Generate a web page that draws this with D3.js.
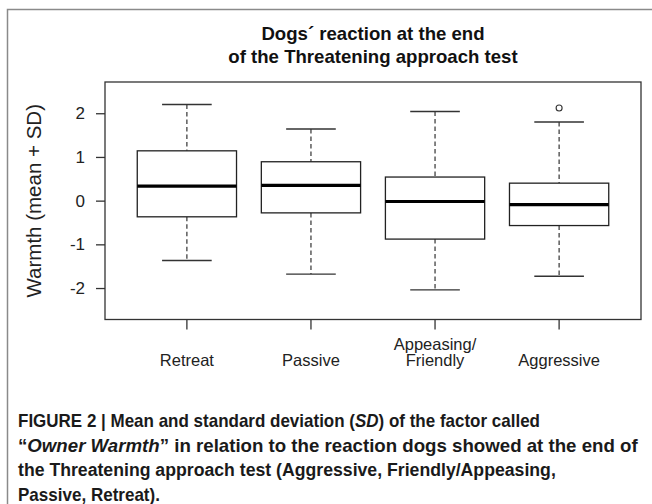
<!DOCTYPE html>
<html>
<head>
<meta charset="utf-8">
<script src="https://cdn.jsdelivr.net/npm/d3@7"></script>
<style>
  body { margin: 0; background: #fff; }
  svg { display: block; }
  text { font-family: "Liberation Sans", Arial, sans-serif; fill: #222; }
</style>
</head>
<body>
<div id="chart"></div>
<script>
"use strict";

// categories in plotting order
const categories = ["Retreat", "Passive", "Appeasing/\nFriendly", "Aggressive"];
// box statistics
const lowerWhisker = [-1.37, -1.68, -2.04, -1.73];
const q1 = [-0.37, -0.28, -0.88, -0.57];
const median = [0.33, 0.35, -0.02, -0.09];
const q3 = [1.14, 0.89, 0.54, 0.40];
const upperWhisker = [2.20, 1.64, 2.04, 1.80];
// outliers: [category index, value]
const outliers = [[3, 2.12]];
const yTicks = [-2, -1, 0, 1, 2];

const titleLines = ["Dogs\u00b4 reaction at the end", "of the Threatening approach test"];
const yLabel = "Warmth (mean + SD)";

const W = 652, H = 504;
const plot = { left: 105, right: 641, top: 82, bottom: 319.5 };

const svg = d3.select("#chart")
   .append("svg")
   .attr("width", W)
   .attr("height", H);

svg.append("rect")
   .attr("width", W)
   .attr("height", H)
   .attr("fill", "#fff");

// outer frame of the figure panel
svg.append("path")
   .attr("d", `M7.5,${H + 2} V9.5 H${W + 2}`)
   .attr("fill", "none")
   .attr("stroke", "#8a8a8a")
   .attr("stroke-width", 1.5);

const x = d3.scaleLinear()
   .domain([0.34, 4.66])
   .range([plot.left, plot.right]);

const y = d3.scaleLinear()
   .domain([-2.72, 2.715])
   .range([plot.bottom, plot.top]);

const step = x(2) - x(1);
const boxW = step * 0.8;
const capW = step * 0.4;

// title
svg.append("g")
   .selectAll("text")
   .data(titleLines)
   .join("text")
   .attr("x", (plot.left + plot.right) / 2)
   .attr("y", (d, i) => 40 + i * 23)
   .attr("text-anchor", "middle")
   .style("font-size", "18.6px")
   .style("font-weight", "bold")
   .style("fill", "#111")
   .text(d => d);

// y axis
const yAxis = svg.append("g")
   .attr("transform", `translate(${plot.left},0)`)
   .call(d3.axisLeft(y).tickValues(yTicks).tickFormat(d => String(d))
      .tickSize(9).tickSizeOuter(0).tickPadding(11));
yAxis.select(".domain").remove();
yAxis.selectAll("line").attr("stroke", "#333").attr("stroke-width", 1.3);
yAxis.selectAll("text")
   .style("font-size", "17px")
   .style("font-family", "'Liberation Sans', Arial, sans-serif")
   .attr("fill", "#222");

svg.append("text")
   .attr("transform", `translate(41,${(plot.top + plot.bottom) / 2}) rotate(-90)`)
   .attr("text-anchor", "middle")
   .style("font-size", "20.5px")
   .text(yLabel);

// x axis ticks and labels
const xg = svg.append("g");
categories.forEach((c, i) => {
   const cx = x(i + 1);
   xg.append("line")
      .attr("x1", cx).attr("x2", cx)
      .attr("y1", plot.bottom).attr("y2", plot.bottom + 10)
      .attr("stroke", "#333").attr("stroke-width", 1.3);
   const lines = c.split("\n");
   lines.forEach((l, j) => {
      xg.append("text")
         .attr("x", cx)
         .attr("y", 366 - (lines.length - 1 - j) * 16.5)
         .attr("text-anchor", "middle")
         .style("font-size", "16.5px")
         .text(l);
   });
});

// boxes
const boxes = svg.append("g")
   .selectAll("g")
   .data(categories.map((c, i) => i))
   .join("g");

boxes.append("line")
   .attr("x1", i => x(i + 1)).attr("x2", i => x(i + 1))
   .attr("y1", i => y(upperWhisker[i])).attr("y2", i => y(q3[i]))
   .attr("stroke", "#333").attr("stroke-width", 1.2).attr("stroke-dasharray", "4.5,3");

boxes.append("line")
   .attr("x1", i => x(i + 1)).attr("x2", i => x(i + 1))
   .attr("y1", i => y(q1[i])).attr("y2", i => y(lowerWhisker[i]))
   .attr("stroke", "#333").attr("stroke-width", 1.2).attr("stroke-dasharray", "4.5,3");

boxes.append("line")
   .attr("x1", i => x(i + 1) - capW / 2).attr("x2", i => x(i + 1) + capW / 2)
   .attr("y1", i => y(upperWhisker[i])).attr("y2", i => y(upperWhisker[i]))
   .attr("stroke", "#333").attr("stroke-width", 1.3);

boxes.append("line")
   .attr("x1", i => x(i + 1) - capW / 2).attr("x2", i => x(i + 1) + capW / 2)
   .attr("y1", i => y(lowerWhisker[i])).attr("y2", i => y(lowerWhisker[i]))
   .attr("stroke", "#333").attr("stroke-width", 1.3);

boxes.append("rect")
   .attr("x", i => x(i + 1) - boxW / 2)
   .attr("width", boxW)
   .attr("y", i => y(q3[i]))
   .attr("height", i => y(q1[i]) - y(q3[i]))
   .attr("fill", "#fff")
   .attr("stroke", "#222")
   .attr("stroke-width", 1.3);

boxes.append("line")
   .attr("x1", i => x(i + 1) - boxW / 2).attr("x2", i => x(i + 1) + boxW / 2)
   .attr("y1", i => y(median[i])).attr("y2", i => y(median[i]))
   .attr("stroke", "#000").attr("stroke-width", 3.2);

svg.append("g")
   .selectAll("circle")
   .data(outliers)
   .join("circle")
   .attr("cx", d => x(d[0] + 1))
   .attr("cy", d => y(d[1]))
   .attr("r", 3)
   .attr("fill", "none")
   .attr("stroke", "#333")
   .attr("stroke-width", 1.1);

// plot frame
svg.append("rect")
   .attr("x", plot.left).attr("y", plot.top)
   .attr("width", plot.right - plot.left)
   .attr("height", plot.bottom - plot.top)
   .attr("fill", "none")
   .attr("stroke", "#333")
   .attr("stroke-width", 1.3);

// caption: the original face is condensed, so each line is squeezed
// horizontally to the width it has in the picture
const capLines = [
   [["FIGURE 2 | Mean and standard deviation (", false], ["SD", true], [") of the factor called", false]],
   [["\u201c", false], ["Owner Warmth", true], ["\u201d in relation to the reaction dogs showed at the end of", false]],
   [["the Threatening approach test (Aggressive, Friendly/Appeasing,", false]],
   [["Passive, Retreat).", false]]
];
const capRight = [540, 638, 556, 160];

capLines.forEach((parts, li) => {
   const g = svg.append("g");
   const t = g.append("text")
      .attr("x", 0)
      .attr("y", 0)
      .style("font-size", "18px")
      .style("font-weight", "bold")
      .style("fill", "#1a1a1a");
   parts.forEach(p => {
      const ts = t.append("tspan").text(p[0]);
      if (p[1]) ts.style("font-style", "italic");
   });
   const len = t.node().getComputedTextLength();
   const k = (capRight[li] - 18) / len;
   g.attr("transform", `translate(18,${427 + li * 24.5}) scale(${k},1)`);
});
</script>
</body>
</html>
